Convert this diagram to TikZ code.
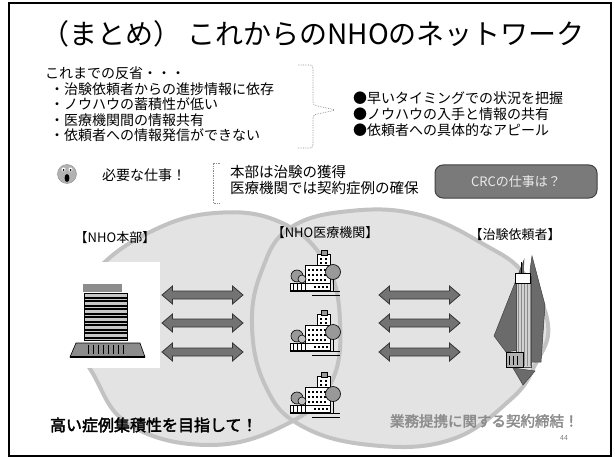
\documentclass[tikz,border=0pt]{standalone}
\usepackage{fontspec}
\setmainfont{Noto Sans CJK JP}
\newfontfamily\jpbold[FakeBold=2.5]{Noto Sans CJK JP}

\tikzset{
  pics/hospital/.style={code={
    % tower and sign
    \draw[fill=white, line width=0.6pt] (27,4) rectangle (40,17);
    \draw[fill=black!40, line width=0.6pt] (31,0) rectangle (37,5);
    \foreach \wx in {30,35} \foreach \wy in {8,12} \fill (\wx,\wy) rectangle ++(2,2);
    % main block
    \draw[fill=white, line width=0.6pt] (15,15) rectangle (40,34);
    \foreach \wx in {18,22,26,30,34} \foreach \wy in {19,24,29} \fill (\wx,\wy) rectangle ++(2,2);
    % trees
    \draw[fill=black!40, line width=0.6pt] (43,22) circle (7.5);
    \draw[line width=0.8pt] (43,29) -- (43,41);
    \draw[fill=black!40, line width=0.6pt] (7,26) circle (6);
    \draw[fill=black!25, line width=0.6pt] (12,29) circle (4);
    % lower wing
    \draw[fill=white, line width=0.6pt] (0,33) rectangle (40,40);
    \foreach \wx in {3,7,11,15} \draw[line width=0.6pt] (\wx,34) -- (\wx,40);
    \foreach \wx in {24,28,32,36} \fill (\wx,36) rectangle ++(2,2);
    % ground
    \draw[line width=1pt] (0,41) -- (50,41);
    \draw[line width=0.8pt] (22,45) -- (50,45);
  }},
  pics/dblarrow/.style={code={
    \draw[draw=black!80, fill=black!55, line width=0.8pt]
      (-40.5,0) -- (-30,-9) -- (-30,-4) -- (30,-4) -- (30,-9) -- (40.5,0)
      -- (30,9) -- (30,4) -- (-30,4) -- (-30,9) -- cycle;
  }}
}

\begin{document}
\begin{tikzpicture}[x=1pt, y=-1pt,
  every node/.style={inner sep=0pt, outer sep=0pt},
  txt/.style={anchor=west, font=\fontsize{14}{15}\selectfont},
  lbl/.style={font=\fontsize{13}{15}\selectfont},
  ringfill/.style={fill=black!11},
  ringline/.style={draw=black!24, line width=4pt},
  dots/.style={black!45, densely dotted, line width=0.7pt}]

  \useasboundingbox (0,0) rectangle (615,457);
  \draw[line width=1.2pt] (9,3) rectangle (611,456);

  % ================= title =================
  \node[font=\fontsize{28}{30}\selectfont] (title) at (313,34) {（まとめ） これからのNHOのネットワーク};

  % ================= reflection list =================
  \node[txt] (past) at (45,73) {これまでの反省・・・};
  \node[txt] (past1) at (50,89) {・治験依頼者からの進捗情報に依存};
  \node[txt] (past2) at (50,104) {・ノウハウの蓄積性が低い};
  \node[txt] (past3) at (50,120) {・医療機関間の情報共有};
  \node[txt] (past4) at (50,135) {・依頼者への情報発信ができない};
  \draw[dots, rounded corners=3pt] (298,65) -- (313,65) -- (313,105) -- (336,110)
    -- (313,115) -- (313,148) -- (298,148);

  \node[txt] (goal1) at (353,98) {●早いタイミングでの状況を把握};
  \node[txt] (goal2) at (353,114) {●ノウハウの入手と情報の共有};
  \node[txt] (goal3) at (353,130) {●依頼者への具体的なアピール};

  % ================= face and needs =================
  \draw[fill=black!30, draw=black!45] (67,174) circle (9.5);
  \fill[white] (63.5,169.5) circle (2) (70.5,169.5) circle (2);
  \fill[black] (63.5,170) circle (1) (70.5,170) circle (1);
  \fill[black] (67,178) ellipse (2.4 and 4);
  \node[txt] (need) at (102,175) {必要な仕事！};

  \draw[dots] (220,163) -- (213,163) -- (213,203) -- (220,203);
  \node[txt, font=\fontsize{14.5}{15}\selectfont] (hq) at (230,172) {本部は治験の獲得};
  \node[txt, font=\fontsize{14.5}{15}\selectfont] (site) at (230,188) {医療機関では契約症例の確保};

  \node[draw=black!75, fill=black!52, line width=1pt, rounded corners=8pt,
    minimum width=162, minimum height=33, text=black!8,
    font=\fontsize{13}{15}\selectfont] (crc) at (516,181.5) {CRCの仕事は？};

  % ================= network rings =================
  \fill[ringfill] plot[smooth cycle, tension=0.7] coordinates {
    (68,322) (95,272) (150,232) (215,213) (280,222) (325,262)
    (340,322) (330,385) (285,425) (210,445) (130,425) (92,372)};
  \fill[ringfill] plot[smooth cycle, tension=0.7] coordinates {
    (548,325) (525,275) (485,245) (420,215) (350,211) (290,228)
    (262,270) (252,325) (265,385) (300,425) (370,445) (450,440)
    (510,400) (535,365)};
  \draw[ringline] plot[smooth cycle, tension=0.7] coordinates {
    (68,322) (95,272) (150,232) (215,213) (280,222) (325,262)
    (340,322) (330,385) (285,425) (210,445) (130,425) (92,372)};
  \draw[ringline] plot[smooth cycle, tension=0.7] coordinates {
    (548,325) (525,275) (485,245) (420,215) (350,211) (290,228)
    (262,270) (252,325) (265,385) (300,425) (370,445) (450,440)
    (510,400) (535,365)};

  \node[lbl] (nhohq) at (115,238) {【NHO本部】};
  \node[lbl] (nhosite) at (325,233) {【NHO医療機関】};
  \node[lbl] (sponsor) at (515,235) {【治験依頼者】};

  % ================= head office building =================
  \fill[white] (58,262) rectangle (160,368);
  \fill[black!45] (83,284) rectangle (122,292);
  \foreach \fy in {293,301,309,317,325,333}
    \draw[fill=black!22, line width=0.5pt] (84,\fy) rectangle (127,\fy+7);
  \foreach \fy in {298,306,314,322,330,338}
    \draw[line width=1.6pt] (84,\fy) -- (127,\fy);
  \draw[fill=black!45, line width=0.6pt] (76,343) -- (140,343) -- (145,357) -- (70,357) -- cycle;
  \foreach \bx in {88,93,...,123} \draw[line width=0.6pt] (\bx,345) -- (\bx,354);
  \draw[line width=1.8pt] (70,357) -- (145,357);

  % ================= arrows =================
  \foreach \ay in {295,323,352} {
    \pic at (202.5,\ay) {dblarrow};
    \pic at (419.5,\ay) {dblarrow};
  }

  % ================= hospitals =================
  \foreach \hy in {250,310,372}
    \pic at (290,\hy) {hospital};

  % ================= sponsor tower =================
  \draw[fill=black!58, draw=black!75, line width=0.5pt] (524,260) -- (494,336) -- (506,352) -- (519,350) -- cycle;
  \draw[fill=black!58, draw=black!75, line width=0.5pt] (532,256) -- (545,305) -- (541,362) -- (530,362) -- (530,270) -- cycle;
  \draw[fill=black!18, draw=black!70, line width=0.5pt] (516,276) rectangle (531,367);
  \foreach \tx in {518,521,...,530} \draw[black!45, line width=0.5pt] (\tx,284) -- (\tx,366);
  \draw[fill=white, line width=0.6pt] (515,273) rectangle (530,283);
  \draw[line width=0.7pt] (521,262) -- (521,273);
  \draw[fill=black!30, line width=0.6pt] (506,352) rectangle (523,367);
  \foreach \tx in {509,513,517} \draw[line width=0.8pt] (\tx,356) -- (\tx,365);
  \draw[fill=black!58, draw=black!75, line width=0.5pt] (513,368) -- (535,371) -- (523,385) -- cycle;

  % ================= closing remarks =================
  \node[anchor=west, font=\jpbold\fontsize{16}{18}\selectfont] (aim) at (50,425) {高い症例集積性を目指して！};
  \node[anchor=west, text=black!45, font=\jpbold\fontsize{14.5}{16}\selectfont] (deal) at (390,421) {業務提携に関する契約締結！};
  \node[text=black!50, font=\fontsize{7}{8}\selectfont] (page) at (564,438) {44};
\end{tikzpicture}
\end{document}
